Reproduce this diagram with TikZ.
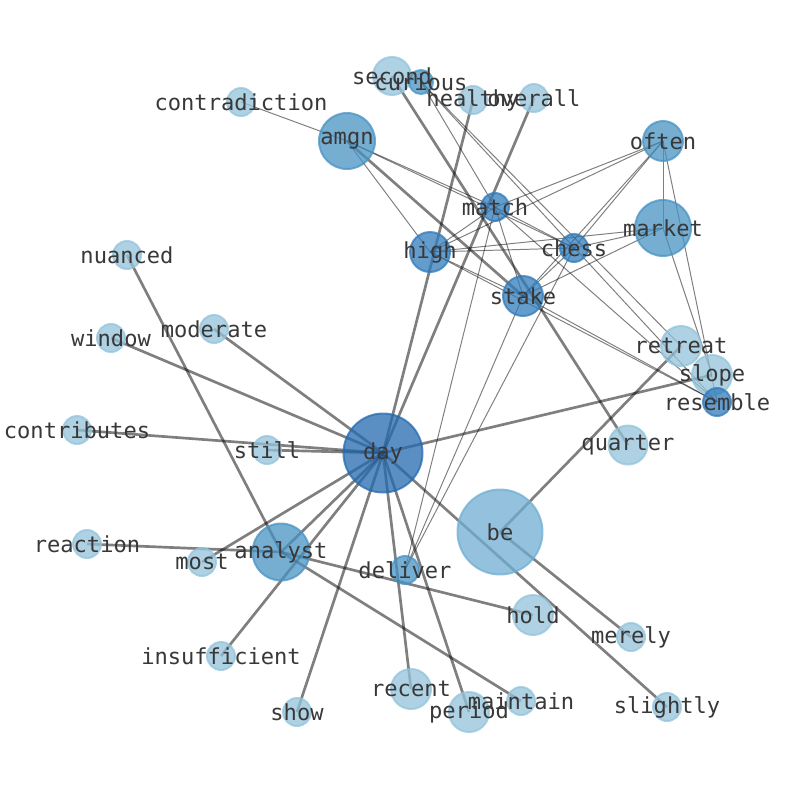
\documentclass[tikz,border=0pt]{standalone}
\usepackage{fontspec}
\setmonofont{DejaVu Sans Mono}
\pgfdeclarelayer{edgelayer}
\pgfsetlayers{edgelayer,main}

\definecolor{palecol}{RGB}{147,195,219}
\definecolor{becol}{RGB}{112,174,211}
\definecolor{midcol}{RGB}{72,147,195}
\definecolor{deepcol}{RGB}{48,123,187}
\definecolor{daycol}{RGB}{36,106,176}

\tikzset{
  word/.style={circle, inner sep=0pt, minimum size=#1*0.05cm, line width=1.4pt,
    fill opacity=0.75, draw opacity=0.75},
  wpale/.style={fill=palecol, draw=palecol},
  wbe/.style={fill=becol, draw=becol},
  wmid/.style={fill=midcol, draw=midcol},
  wdeep/.style={fill=deepcol, draw=deepcol},
  wday/.style={fill=daycol, draw=daycol},
  wtext/.style={font=\fontsize{15.7}{18}\selectfont\ttfamily, text=black!78, inner sep=0pt},
  strong/.style={draw=black, opacity=0.5, line width=1.9pt},
  weak/.style={draw=black, opacity=0.5, line width=0.7pt}
}

\begin{document}
\begin{tikzpicture}[x=0.025cm, y=-0.025cm]
  \useasboundingbox (0,0) rectangle (794,790);

  % words
  \node[word=19, wpale] (second) at (392,76) {};
  \node[word=12, wmid] (curious) at (421,82) {};
  \node[word=14, wpale] (healthy) at (473,100) {};
  \node[word=14, wpale] (overall) at (534,98) {};
  \node[word=14, wpale] (contradiction) at (241,102) {};
  \node[word=28, wmid] (amgn) at (347,141) {};
  \node[word=20, wmid] (often) at (663,141) {};
  \node[word=14, wdeep] (match) at (495,207) {};
  \node[word=28, wmid] (market) at (663,228) {};
  \node[word=20, wdeep] (high) at (430,252) {};
  \node[word=14, wdeep] (chess) at (574,248) {};
  \node[word=14, wpale] (nuanced) at (127,255) {};
  \node[word=20, wdeep] (stake) at (523,296) {};
  \node[word=14, wpale] (moderate) at (214,329) {};
  \node[word=14, wpale] (window) at (111,338) {};
  \node[word=20, wpale] (retreat) at (681,346) {};
  \node[word=20, wpale] (slope) at (712,375) {};
  \node[word=14, wdeep] (resemble) at (717,402) {};
  \node[word=14, wpale] (contributes) at (77,430) {};
  \node[word=14, wpale] (still) at (267,450) {};
  \node[word=39.5, wday] (day) at (383,453) {};
  \node[word=19.5, wpale] (quarter) at (628,445) {};
  \node[word=42.5, wbe] (be) at (500,532) {};
  \node[word=14, wpale] (reaction) at (87,544) {};
  \node[word=14, wpale] (most) at (202,562) {};
  \node[word=28.5, wmid] (analyst) at (281,552) {};
  \node[word=14, wmid] (deliver) at (405,570) {};
  \node[word=20, wpale] (hold) at (533,615) {};
  \node[word=14, wpale] (merely) at (631,637) {};
  \node[word=14, wpale] (insufficient) at (221,656) {};
  \node[word=20, wpale] (recent) at (411,689) {};
  \node[word=14, wpale] (maintain) at (521,701) {};
  \node[word=20, wpale] (period) at (469,712) {};
  \node[word=14, wpale] (show) at (297,712) {};
  \node[word=14, wpale] (slightly) at (667,707) {};

  % labels on top
  \foreach \w in {second, curious, healthy, overall, contradiction, amgn, often,
      match, market, high, chess, nuanced, stake, moderate, window, retreat, slope,
      resemble, contributes, still, day, quarter, be, reaction, most, analyst,
      deliver, hold, merely, insufficient, recent, maintain, period, show, slightly}
    \node[wtext] (\w-t) at (\w) {\w};

  % links
  \begin{pgfonlayer}{edgelayer}
    \draw[strong] (day.center) -- (window.center);
    \draw[strong] (day.center) -- (moderate.center);
    \draw[strong] (day.center) -- (contributes.center);
    \draw[strong] (day.center) -- (still.center);
    \draw[strong] (day.center) -- (most.center);
    \draw[strong] (day.center) -- (analyst.center);
    \draw[strong] (day.center) -- (insufficient.center);
    \draw[strong] (day.center) -- (show.center);
    \draw[strong] (day.center) -- (recent.center);
    \draw[strong] (day.center) -- (period.center);
    \draw[strong] (day.center) -- (slightly.center);
    \draw[strong] (day.center) -- (slope.center);
    \draw[strong] (day.center) -- (healthy.center);
    \draw[strong] (day.center) -- (overall.center);
    \draw[strong] (analyst.center) -- (nuanced.center);
    \draw[strong] (analyst.center) -- (reaction.center);
    \draw[strong] (analyst.center) -- (hold.center);
    \draw[strong] (analyst.center) -- (maintain.center);
    \draw[strong] (be.center) -- (merely.center);
    \draw[strong] (be.center) -- (retreat.center);
    \draw[strong] (second.center) -- (quarter.center);
    \draw[strong] (amgn.center) -- (stake.center);
    \draw[weak] (contradiction.center) -- (amgn.center);
    \draw[weak] (amgn.center) -- (match.center);
    \draw[weak] (amgn.center) -- (chess.center);
    \draw[weak] (amgn.center) -- (high.center);
    \draw[weak] (curious.center) -- (match.center);
    \draw[weak] (curious.center) -- (retreat.center);
    \draw[weak] (curious.center) -- (resemble.center);
    \draw[weak] (often.center) -- (match.center);
    \draw[weak] (often.center) -- (high.center);
    \draw[weak] (often.center) -- (chess.center);
    \draw[weak] (often.center) -- (stake.center);
    \draw[weak] (often.center) -- (market.center);
    \draw[weak] (often.center) -- (resemble.center);
    \draw[weak] (market.center) -- (high.center);
    \draw[weak] (market.center) -- (chess.center);
    \draw[weak] (market.center) -- (stake.center);
    \draw[weak] (market.center) -- (slope.center);
    \draw[weak] (match.center) -- (high.center);
    \draw[weak] (match.center) -- (chess.center);
    \draw[weak] (match.center) -- (stake.center);
    \draw[weak] (match.center) -- (resemble.center);
    \draw[weak] (match.center) -- (deliver.center);
    \draw[weak] (high.center) -- (chess.center);
    \draw[weak] (high.center) -- (stake.center);
    \draw[weak] (high.center) -- (resemble.center);
    \draw[weak] (chess.center) -- (stake.center);
    \draw[weak] (chess.center) -- (deliver.center);
    \draw[weak] (stake.center) -- (deliver.center);
    \draw[weak] (stake.center) -- (resemble.center);
  \end{pgfonlayer}
\end{tikzpicture}
\end{document}
